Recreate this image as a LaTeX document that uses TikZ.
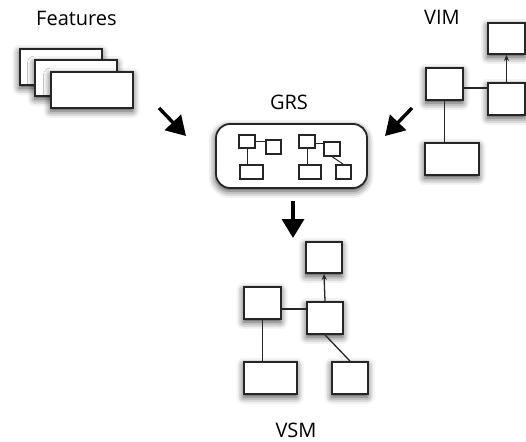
\documentclass[tikz,border=0pt]{standalone}
\usepackage{fontspec}
\setmainfont{Open Sans}
\usetikzlibrary{arrows.meta,shadows.blur}
\tikzset{
  bx/.style={draw=black!85, line width=1.8pt, fill=white, inner sep=0pt,
    blur shadow={shadow xshift=-0.5pt, shadow yshift=-3pt, shadow blur radius=7pt, shadow opacity=75}},
  mini/.style={draw=black!85, line width=1.1pt, fill=white, inner sep=0pt},
  conn/.style={draw=black!85, line width=1.3pt},
  big/.style={line width=3.4pt, -{Triangle[length=19pt,width=22pt]}},
  lbl/.style={font=\fontsize{20}{22}\selectfont, inner sep=0pt, anchor=base}
}
\begin{document}
\begin{tikzpicture}[x=1pt,y=-1pt]
\useasboundingbox (0,0) rectangle (526,441);
% Features
\node[lbl] (featl) at (76.5,26) {Features};
\node[bx, minimum width=82pt, minimum height=36pt] (f1) at (61,67) {};
\node[bx, minimum width=82pt, minimum height=36pt] (f2) at (76,78) {};
\node[bx, minimum width=82pt, minimum height=36pt] (f3) at (92,90) {};
% GRS
\node[lbl] (grsl) at (289,109) {GRS};
\node[bx, rounded corners=14pt, minimum width=151pt, minimum height=64pt] (grs) at (291.5,156) {};
\node[mini, minimum width=16pt, minimum height=13pt] (a) at (247,141.5) {};
\node[mini, minimum width=15pt, minimum height=14pt] (b) at (273.5,147) {};
\node[mini, minimum width=23pt, minimum height=14pt] (c) at (251.5,172) {};
\draw[conn, line width=1pt] (a.east) -- (a.east -| b.west);
\draw[conn, line width=1pt] (a.south) -- (a.south |- c.north);
\node[mini, minimum width=16pt, minimum height=13pt] (d) at (307,141.5) {};
\node[mini, minimum width=16pt, minimum height=14pt] (e) at (332,149) {};
\node[mini, minimum width=22pt, minimum height=14pt] (f) at (310,172) {};
\node[mini, minimum width=15pt, minimum height=14pt] (g) at (343.5,172) {};
\draw[conn, line width=1pt] ([yshift=-2pt]d.east) -- ([yshift=-2pt]d.east -| e.west);
\draw[conn, line width=1pt] (d.south) -- (d.south |- f.north);
\draw[conn, line width=1pt] (e.south) -- (g.north);
% VIM
\node[lbl] (viml) at (442,25) {VIM};
\node[bx, minimum width=37pt, minimum height=31pt] (v1) at (506.5,38.5) {};
\node[bx, minimum width=37pt, minimum height=32pt] (v2) at (506.5,99) {};
\node[bx, minimum width=37pt, minimum height=32pt] (v3) at (444.5,84) {};
\node[bx, minimum width=54pt, minimum height=32pt] (v4) at (452,159) {};
\draw[conn] ([yshift=-4pt]v3.east) -- ([yshift=-4pt]v3.east -| v2.west);
\draw[conn] (v3.south) -- (v3.south |- v4.north);
\draw[conn, -{Stealth[length=6pt,width=5pt]}] (v2.north) -- (v1.south);
% VSM
\node[lbl] (vsml) at (296,437) {VSM};
\node[bx, minimum width=36pt, minimum height=31pt] (s1) at (324,257.5) {};
\node[bx, minimum width=36pt, minimum height=32pt] (s2) at (325,318) {};
\node[bx, minimum width=37pt, minimum height=32pt] (s3) at (262.5,303) {};
\node[bx, minimum width=53pt, minimum height=32pt] (s4) at (270.5,378) {};
\node[bx, minimum width=36pt, minimum height=32pt] (s5) at (350,378) {};
\draw[conn] ([yshift=-6pt]s3.east) -- ([yshift=-6pt]s3.east -| s2.west);
\draw[conn] (s3.south) -- (s3.south |- s4.north);
\draw[conn, -{Stealth[length=6pt,width=5pt]}] (s2.north) -- (s1.south);
\draw[conn] (s2.south) -- (s5.north);
% big arrows
\coordinate (fa1) at (159,108); \coordinate (fa2) at (186,136);
\coordinate (va1) at (412,108); \coordinate (va2) at (385,136);
\coordinate (ga1) at (293,201); \coordinate (ga2) at (293,238);
\draw[big] (fa1) -- (fa2);
\draw[big] (va1) -- (va2);
\draw[big] (ga1) -- (ga2);
\end{tikzpicture}
\end{document}
